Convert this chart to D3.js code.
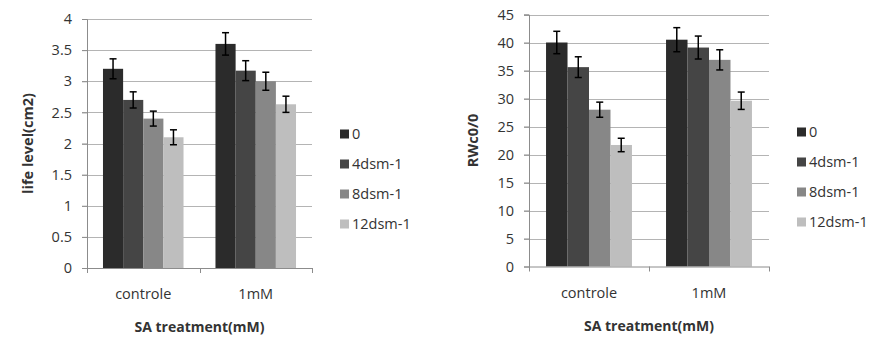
<!DOCTYPE html>
<html>
<head>
<meta charset="utf-8">
<script src="https://cdn.jsdelivr.net/npm/d3@7"></script>
<style>
  body { margin: 0; background: #fff; }
  text { font-family: "Open Sans", sans-serif; fill: #333; }
</style>
</head>
<body>
<div id="chart"></div>
<script>
// 資料
const categories = ["controle", "1mM"];
const series = ["0", "4dsm-1", "8dsm-1", "12dsm-1"];
const colors = ["#2b2b2b", "#454545", "#878787", "#bebebe"];

// life level(cm2)
const leafValues = [[3.2, 2.7, 2.4, 2.1], [3.6, 3.17, 3.0, 2.63]];
const leafErrors = [[0.16, 0.13, 0.12, 0.12], [0.18, 0.16, 0.145, 0.13]];
const leafTicks = [0, 0.5, 1, 1.5, 2, 2.5, 3, 3.5, 4];

// RWc0/0
const rwcValues = [[40, 35.6, 28, 21.7], [40.5, 39.1, 36.9, 29.6]];
const rwcErrors = [[2, 1.85, 1.35, 1.2], [2.15, 2.05, 1.8, 1.55]];
const rwcTicks = [0, 5, 10, 15, 20, 25, 30, 35, 40, 45];

const svg = d3.select("#chart")
    .append("svg")
    .attr("width", 885)
    .attr("height", 352);

function drawChart(opt) {
    const g = svg.append("g");

    // 比例尺
    const x0 = d3.scaleBand().domain(categories).range([opt.left, opt.right]);
    const pad = x0.bandwidth() * 0.142;
    const x1 = d3.scaleBand().domain(series).range([pad, x0.bandwidth() - pad]);
    const y = d3.scaleLinear().domain([0, opt.max]).range([opt.bottom, opt.top]);

    // 格線
    g.selectAll(".grid")
        .data(opt.ticks.filter(t => t > 0))
        .enter()
        .append("line")
        .attr("x1", opt.left - 5)
        .attr("x2", opt.right)
        .attr("y1", d => Math.round(y(d)) + 0.5)
        .attr("y2", d => Math.round(y(d)) + 0.5)
        .attr("stroke", "#b4b4b4")
        .attr("stroke-width", 1);

    // y 軸
    const yAxis = g.append("g")
        .attr("transform", `translate(${opt.left},0)`)
        .call(d3.axisLeft(y).tickValues(opt.ticks).tickFormat(d => String(d)).tickSize(5).tickPadding(10));
    yAxis.select(".domain").attr("stroke", "#8c8c8c");
    yAxis.selectAll(".tick line").attr("stroke", "#8c8c8c");
    yAxis.selectAll("text").style("font-size", "14.5px").attr("fill", "#333");

    // 長條
    const groups = g.selectAll(".grp")
        .data(categories)
        .enter()
        .append("g")
        .attr("transform", d => `translate(${x0(d)},0)`);

    groups.each(function(cat, ci) {
        const gg = d3.select(this);
        series.forEach((s, si) => {
            const v = opt.values[ci][si];
            const e = opt.errors[ci][si];
            gg.append("rect")
                .attr("x", x1(s))
                .attr("y", y(v))
                .attr("width", x1.bandwidth())
                .attr("height", y(0) - y(v))
                .attr("fill", colors[si]);
            const cx = x1(s) + x1.bandwidth() / 2;
            gg.append("line")
                .attr("x1", cx).attr("x2", cx)
                .attr("y1", y(v + e)).attr("y2", y(v - e))
                .attr("stroke", "#000").attr("stroke-width", 1.5);
            [v + e, v - e].forEach(t => {
                gg.append("line")
                    .attr("x1", cx - 3.5).attr("x2", cx + 3.5)
                    .attr("y1", y(t)).attr("y2", y(t))
                    .attr("stroke", "#000").attr("stroke-width", 1.5);
            });
        });
    });

    // x 軸
    const xAxisLine = g.append("g");
    xAxisLine.append("line")
        .attr("x1", opt.left).attr("x2", opt.right)
        .attr("y1", opt.bottom + 0.5).attr("y2", opt.bottom + 0.5)
        .attr("stroke", "#8c8c8c");
    [opt.left, x0("1mM"), opt.right].forEach(px => {
        xAxisLine.append("line")
            .attr("x1", Math.round(px) + 0.5).attr("x2", Math.round(px) + 0.5)
            .attr("y1", opt.bottom).attr("y2", opt.bottom + 5)
            .attr("stroke", "#8c8c8c");
    });
    g.selectAll(".cat")
        .data(categories)
        .enter()
        .append("text")
        .attr("x", d => x0(d) + x0.bandwidth() / 2)
        .attr("y", opt.bottom + 31)
        .attr("text-anchor", "middle")
        .style("font-size", "14.5px")
        .text(d => d);

    // 軸標題
    g.append("text")
        .attr("x", (opt.left + opt.right) / 2)
        .attr("y", opt.bottom + 64)
        .attr("text-anchor", "middle")
        .style("font-size", "14px")
        .style("font-weight", "bold")
        .text("SA treatment(mM)");

    g.append("text")
        .attr("transform", `translate(${opt.titleX},${(opt.top + opt.bottom) / 2}) rotate(-90)`)
        .attr("text-anchor", "middle")
        .attr("dy", "0.35em")
        .style("font-size", "14.5px")
        .style("font-weight", "bold")
        .text(opt.title);

    // 圖例
    const legend = g.selectAll(".lg")
        .data(series)
        .enter()
        .append("g")
        .attr("transform", (d, i) => `translate(${opt.legendX},${opt.legendY + i * 30})`);
    legend.append("rect")
        .attr("x", 0).attr("y", -4.5)
        .attr("width", 9).attr("height", 9)
        .attr("fill", (d, i) => colors[i]);
    legend.append("text")
        .attr("x", 12)
        .attr("dy", "0.35em")
        .style("font-size", "14.5px")
        .text(d => d);
}

drawChart({
    left: 87, right: 312, top: 19, bottom: 268, max: 4,
    ticks: leafTicks, values: leafValues, errors: leafErrors,
    title: "life level(cm2)", titleX: 28, legendX: 340, legendY: 134
});

drawChart({
    left: 529, right: 769, top: 14.5, bottom: 266.5, max: 45,
    ticks: rwcTicks, values: rwcValues, errors: rwcErrors,
    title: "RWc0/0", titleX: 473, legendX: 797, legendY: 132
});
</script>
</body>
</html>
